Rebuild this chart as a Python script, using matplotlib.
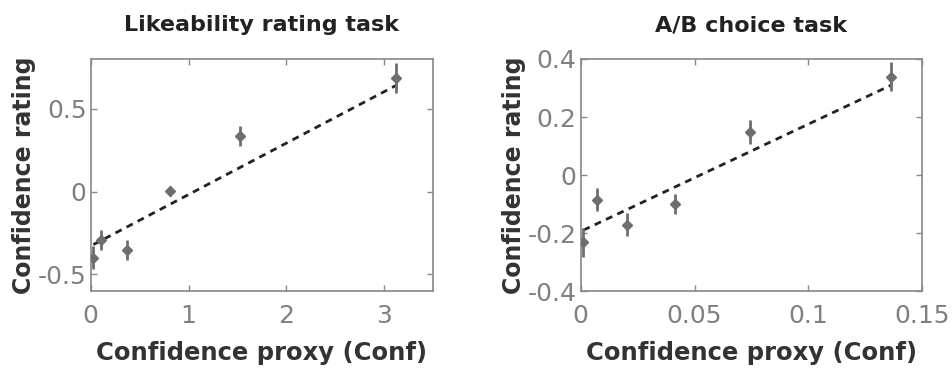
import matplotlib
matplotlib.use("Agg")
import matplotlib.pyplot as plt

# Likeability rating task
like_x = [0.027, 0.11, 0.37, 0.815, 1.53, 3.12]
like_y = [-0.40, -0.29, -0.35, 0.005, 0.338, 0.687]
like_err = [0.07, 0.06, 0.06, 0.03, 0.06, 0.09]
like_fit = [-0.32, 0.64]  # fit line values at first and last x

# A/B choice task
ab_x = [0.0012, 0.0071, 0.0204, 0.0413, 0.0743, 0.1364]
ab_y = [-0.232, -0.085, -0.171, -0.101, 0.148, 0.338]
ab_err = [0.05, 0.04, 0.04, 0.035, 0.04, 0.05]
ab_fit = [-0.19, 0.31]

like_xticks = [0, 1, 2, 3]
like_yticks = [-0.5, 0, 0.5]
ab_xticks = [0, 0.05, 0.1, 0.15]
ab_yticks = [-0.4, -0.2, 0, 0.2, 0.4]

plt.rcParams["font.family"] = ["DejaVu Sans"]

fig = plt.figure(figsize=(9.53, 3.72), dpi=100)
ax1 = fig.add_axes([0.0952, 0.2177, 0.3592, 0.6237])
ax2 = fig.add_axes([0.6093, 0.2177, 0.3584, 0.6237])

panels = [
    (ax1, like_x, like_y, like_err, like_fit, "Likeability rating task",
     (0, 3.5), (-0.6, 0.8), like_xticks, like_yticks, ["0", "1", "2", "3"], ["-0.5", "0", "0.5"]),
    (ax2, ab_x, ab_y, ab_err, ab_fit, "A/B choice task",
     (0, 0.15), (-0.4, 0.4), ab_xticks, ab_yticks, ["0", "0.05", "0.1", "0.15"],
     ["-0.4", "-0.2", "0", "0.2", "0.4"]),
]

for ax, x, y, err, fit, title, xl, yl, xt, yt, xtl, ytl in panels:
    ax.plot([x[0], x[-1]], fit, linestyle=(0, (2.5, 2)), color="#222222", lw=2, zorder=2)
    ax.errorbar(x, y, yerr=err, fmt="D", color="#6e6e6e", ms=5.5, elinewidth=2,
                capsize=0, zorder=3)
    ax.set_xlim(*xl)
    ax.set_ylim(*yl)
    ax.set_xticks(xt)
    ax.set_xticklabels(xtl)
    ax.set_yticks(yt)
    ax.set_yticklabels(ytl)
    ax.tick_params(direction="in", top=True, right=True, length=4, width=1,
                   color="#888888", labelsize=18, labelcolor="#808080")
    ax.tick_params(axis="x", pad=9)
    ax.tick_params(axis="y", pad=3)
    for s in ax.spines.values():
        s.set_color("#888888")
        s.set_linewidth(1.2)
    ax.set_title(title, fontsize=16, fontweight="bold", color="#222222", pad=20)
    ax.set_xlabel("Confidence proxy (Conf)", fontsize=17.5, fontweight="bold", color="#333333", labelpad=10)
    ax.set_ylabel("Confidence rating", fontsize=17, fontweight="bold", color="#333333", labelpad=1)

fig.savefig("out.png", dpi=100)
